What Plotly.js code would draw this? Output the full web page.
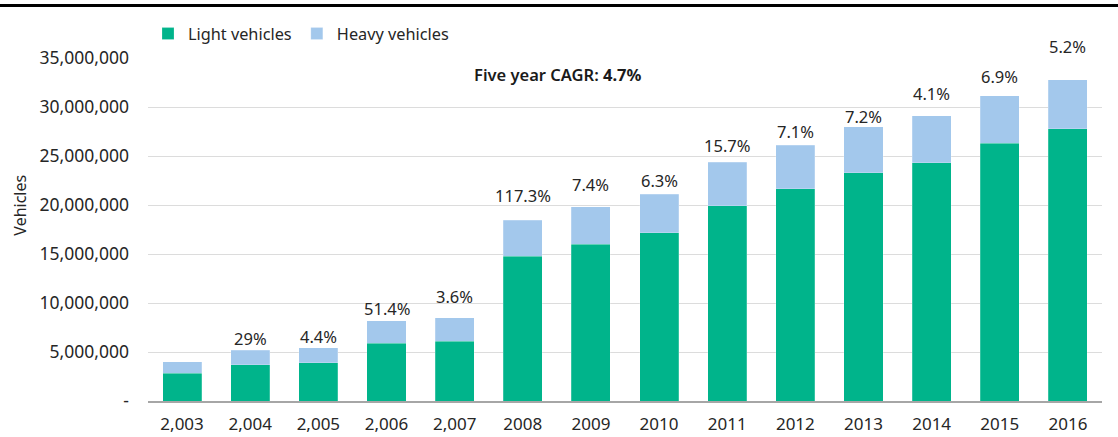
<!DOCTYPE html>
<html>
<head>
<meta charset="utf-8">
<script src="https://cdn.plot.ly/plotly-3.0.1.min.js"></script>
<style>
  html, body { margin: 0; padding: 0; background: #fff; }
  #chart { width: 1118px; height: 437px; }
</style>
</head>
<body>
<div id="chart"></div>
<script>
// ---- Data ----
const years = ['2,003', '2,004', '2,005', '2,006', '2,007', '2008', '2009',
               '2010', '2011', '2012', '2013', '2014', '2015', '2016'];
const lightVehicles = [2850000, 3710000, 3910000, 5890000, 6090000, 14750000, 16000000,
                       17170000, 19930000, 21640000, 23270000, 24330000, 26310000, 27800000];
const heavyVehicles = [1170000, 1460000, 1500000, 2280000, 2390000, 3680000, 3800000,
                       3920000, 4440000, 4460000, 4710000, 4800000, 4840000, 4980000];
const growthLabels = ['', '29%', '4.4%', '51.4%', '3.6%', '117.3%', '7.4%',
                      '6.3%', '15.7%', '7.1%', '7.2%', '4.1%', '6.9%', '5.2%'];
const yTickValues = [0, 5000000, 10000000, 15000000, 20000000, 25000000, 30000000, 35000000];
const yTickLabels = ['-', '5,000,000', '10,000,000', '15,000,000', '20,000,000',
                     '25,000,000', '30,000,000', '35,000,000'];
const cagrText = 'Five year CAGR: <b>4.7%</b>';

// ---- Layout-only settings ----
const labelShift = [0, 12, 11, 12, 21, 25, 22, 14, 17, 14, 10, 22, 19, 33];
const FONT = '"Noto Sans", "Open Sans", sans-serif';
const TEXT = '#262626';
const GREEN = '#00b48b';
const BLUE = '#a3c8ec';

const totals = lightVehicles.map((v, i) => v + heavyVehicles[i]);

const traces = [
  {
    type: 'bar', name: 'Light vehicles', x: years, y: lightVehicles,
    marker: { color: GREEN, line: { color: 'rgba(255,255,255,0.35)', width: 0.6 } },
    hoverinfo: 'x+y+name'
  },
  {
    type: 'bar', name: 'Heavy vehicles', x: years, y: heavyVehicles,
    marker: { color: BLUE, line: { color: 'rgba(255,255,255,0.35)', width: 0.6 } },
    hoverinfo: 'x+y+name'
  }
];

// category index positions for the growth labels (category axis)
const annotations = growthLabels.map((t, i) => ({
  x: i, y: totals[i], xref: 'x', yref: 'y',
  text: t, showarrow: false, yanchor: 'middle', yshift: labelShift[i],
  font: { family: FONT, size: 16.5, color: TEXT }
})).filter(a => a.text !== '');

annotations.push({
  x: 0.43, y: 0.952, xref: 'paper', yref: 'paper', text: cagrText,
  showarrow: false, xanchor: 'center', yanchor: 'middle',
  font: { family: FONT, size: 16.5, color: '#1a1a1a', weight: 600 }
});
annotations.push({
  x: -0.134, y: 0.57, xref: 'paper', yref: 'paper', text: 'Vehicles',
  textangle: -90, showarrow: false, xanchor: 'center', yanchor: 'middle',
  font: { family: FONT, size: 16, color: TEXT }
});

const layout = {
  width: 1118, height: 437,
  margin: { l: 148, r: 16, t: 58, b: 36, pad: 0 },
  paper_bgcolor: '#fff', plot_bgcolor: '#fff',
  barmode: 'stack', bargap: 0.427,
  font: { family: FONT, size: 16, color: TEXT },
  showlegend: true,
  legend: {
    orientation: 'h', x: 0.0, y: 1.07, xanchor: 'left', yanchor: 'middle',
    font: { family: FONT, size: 16.3, color: TEXT }, bgcolor: 'rgba(0,0,0,0)',
    traceorder: 'normal'
  },
  xaxis: {
    type: 'category', range: [-0.5, years.length - 0.5], autorange: false,
    showgrid: false, zeroline: false,
    showline: true, linecolor: '#a6a6a6', linewidth: 2,
    ticks: '', ticklabelstandoff: 7,
    tickfont: { family: FONT, size: 17, color: TEXT },
    fixedrange: true
  },
  yaxis: {
    range: [0, 35000000], autorange: false,
    tickmode: 'array', tickvals: yTickValues, ticktext: yTickLabels,
    showgrid: true, gridcolor: '#dcdcdc', gridwidth: 1, zeroline: false, showline: false,
    ticks: '', ticklabelstandoff: 18,
    tickfont: { family: FONT, size: 17.5, color: TEXT },
    fixedrange: true
  },
  annotations: annotations,
  shapes: [{
    type: 'line', xref: 'paper', yref: 'paper',
    x0: -148 / 954, x1: (1118 - 148) / 954, y0: (401 - 6) / 342.5, y1: (401 - 6) / 342.5,
    line: { color: '#000', width: 3 }
  }]
};

Plotly.newPlot('chart', traces, layout, { displayModeBar: false, staticPlot: true });
</script>
</body>
</html>
